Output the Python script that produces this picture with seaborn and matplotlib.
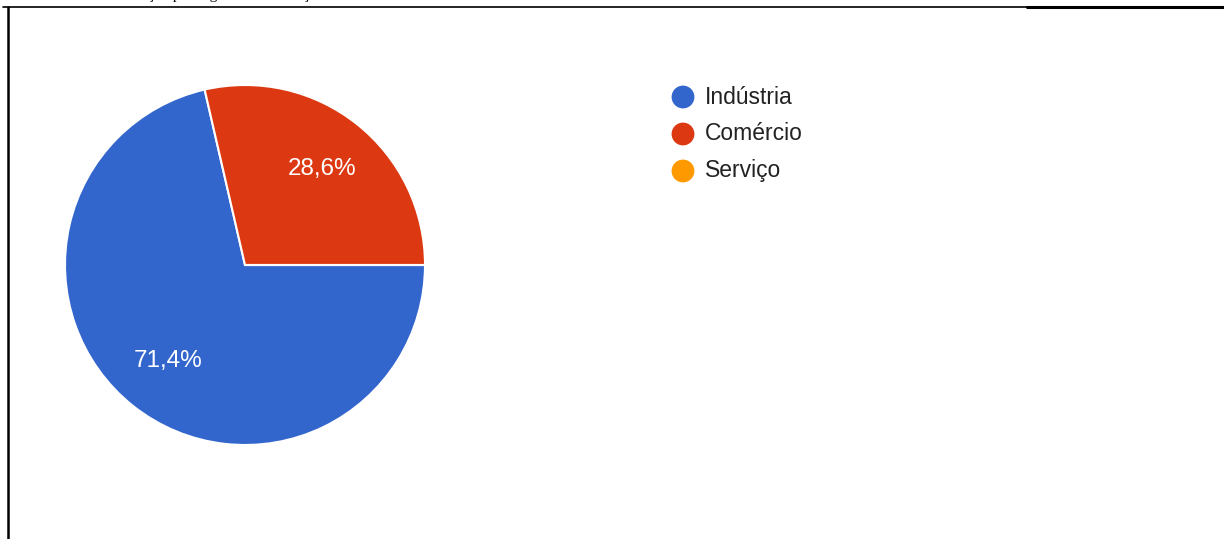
import matplotlib
matplotlib.use("Agg")
import numpy as np
import matplotlib.pyplot as plt
from matplotlib.lines import Line2D
import seaborn as sns

categories = ["Indústria", "Comércio", "Serviço"]
shares = [71.4, 28.6, 0.0]
colors = ["#3366CC", "#DC3912", "#FF9900"]
caption = "Gráfico 3 – Distribuição por segmento de atuação"

sns.set_theme(style="white")
plt.rcParams["font.family"] = ["Liberation Sans", "DejaVu Sans"]

W, H = 1224, 539
fig = plt.figure(figsize=(W / 100, H / 100), dpi=100)
fig.patch.set_facecolor("white")


def px_box(x, y, w, h):
    """Convert a pixel box (top-left origin) to figure fractions."""
    return [x / W, 1 - (y + h) / H, w / W, h / H]


# pie chart: first slice starts at 3 o'clock and runs clockwise
ax = fig.add_axes(px_box(65, 85, 360, 360))
ax.pie(
    shares,
    colors=colors,
    startangle=0,
    counterclock=False,
    radius=1.0,
    wedgeprops=dict(edgecolor="white", linewidth=1.5),
)
ax.set_xlim(-1, 1)
ax.set_ylim(-1, 1)
ax.set_aspect("equal")
ax.axis("off")

# percentage labels inside the slices
start = 0.0
for v in shares:
    if v <= 0:
        continue
    mid = np.deg2rad(start - v / 100 * 360 / 2)
    start -= v / 100 * 360
    r = 0.685
    ax.text(r * np.cos(mid), r * np.sin(mid), f"{v:.1f}%".replace(".", ","),
            ha="center", va="center", color="white", fontsize=17.5)

# legend
lax = fig.add_axes([0, 0, 1, 1])
lax.set_xlim(0, W)
lax.set_ylim(H, 0)
lax.axis("off")
for i, (cat, col) in enumerate(zip(categories, colors)):
    y = 97 + i * 37
    lax.scatter([683], [y], s=270, color=col, edgecolor="none")
    lax.text(705, y, cat, ha="left", va="center", fontsize=16.5, color="#222222")

# document frame lines
lax.add_line(Line2D([3, 1027], [7, 7], color="black", linewidth=1.2))
lax.add_line(Line2D([1027, W], [7, 7], color="black", linewidth=2.2))
lax.add_line(Line2D([7.5, 7.5], [7, H], color="black", linewidth=1.8))

# caption above the frame, cut by the page edge
lax.text(20, -0.5, caption, ha="left", va="baseline", fontsize=11,
         color="black", family=["Liberation Serif", "DejaVu Serif"])

fig.savefig("out.png", dpi=100, facecolor="white")
